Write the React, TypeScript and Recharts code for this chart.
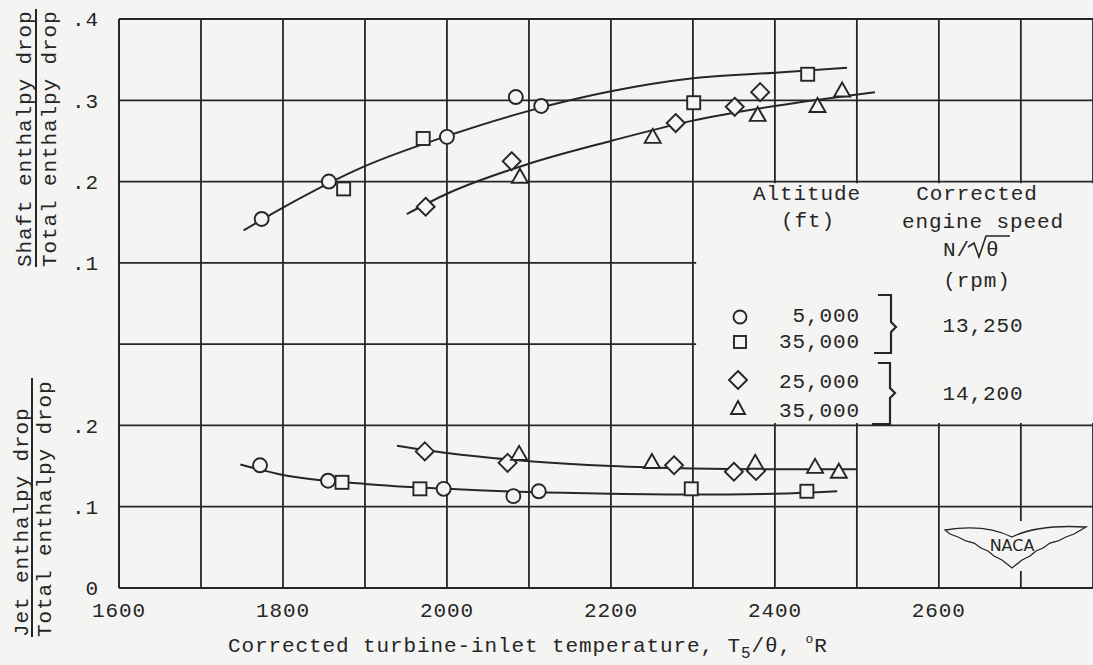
import React from 'react';
import {
  ComposedChart,
  Scatter,
  Line,
  XAxis,
  YAxis,
  CartesianGrid,
  ReferenceArea,
} from 'recharts';

const BG = '#f4f4f2';
const INK = '#262626';
const FONT = '"Liberation Mono", "DejaVu Sans Mono", monospace';

// ---- axis ticks -------------------------------------------------------
const xTicks = [1600, 1700, 1800, 1900, 2000, 2100, 2200, 2300, 2400, 2500, 2600, 2700];
const xTickLabels = ['1600', '', '1800', '', '2000', '', '2200', '', '2400', '', '2600', ''];
// one shared grid: lower panel 0..0.3, upper panel .1..4 (stacked above)
const yTicks = [0, 0.1, 0.2, 0.3, 0.4, 0.5, 0.6, 0.7];
const yTickLabels = ['0', '.1', '.2', '', '.1', '.2', '.3', '.4'];

// ---- upper panel: Shaft enthalpy drop / Total enthalpy drop -----------
const shaft5000 = [
  { t: 1774, v: 0.154 },
  { t: 1856, v: 0.2 },
  { t: 2000, v: 0.255 },
  { t: 2084, v: 0.304 },
  { t: 2115, v: 0.293 },
];
const shaft35000a = [
  { t: 1874, v: 0.191 },
  { t: 1971, v: 0.253 },
  { t: 2301, v: 0.297 },
  { t: 2440, v: 0.332 },
];
const shaft25000 = [
  { t: 1974, v: 0.169 },
  { t: 2079, v: 0.225 },
  { t: 2279, v: 0.272 },
  { t: 2351, v: 0.292 },
  { t: 2382, v: 0.31 },
];
const shaft35000b = [
  { t: 2089, v: 0.206 },
  { t: 2251, v: 0.255 },
  { t: 2379, v: 0.282 },
  { t: 2452, v: 0.293 },
  { t: 2482, v: 0.312 },
];
const shaftCurve13250 = [
  { t: 1752, v: 0.14 },
  { t: 1800, v: 0.168 },
  { t: 1900, v: 0.219 },
  { t: 2000, v: 0.256 },
  { t: 2100, v: 0.287 },
  { t: 2200, v: 0.311 },
  { t: 2300, v: 0.327 },
  { t: 2400, v: 0.334 },
  { t: 2488, v: 0.34 },
];
const shaftCurve14200 = [
  { t: 1951, v: 0.16 },
  { t: 2000, v: 0.185 },
  { t: 2100, v: 0.222 },
  { t: 2200, v: 0.25 },
  { t: 2300, v: 0.275 },
  { t: 2400, v: 0.293 },
  { t: 2522, v: 0.31 },
];

// ---- lower panel: Jet enthalpy drop / Total enthalpy drop -------------
const jet5000 = [
  { t: 1772, v: 0.151 },
  { t: 1855, v: 0.132 },
  { t: 1996, v: 0.122 },
  { t: 2081, v: 0.113 },
  { t: 2112, v: 0.119 },
];
const jet35000a = [
  { t: 1872, v: 0.13 },
  { t: 1967, v: 0.122 },
  { t: 2298, v: 0.122 },
  { t: 2439, v: 0.119 },
];
const jet25000 = [
  { t: 1973, v: 0.168 },
  { t: 2074, v: 0.154 },
  { t: 2277, v: 0.151 },
  { t: 2350, v: 0.143 },
  { t: 2377, v: 0.144 },
];
const jet35000b = [
  { t: 2088, v: 0.165 },
  { t: 2250, v: 0.155 },
  { t: 2376, v: 0.154 },
  { t: 2449, v: 0.149 },
  { t: 2478, v: 0.143 },
];
const jetCurve13250 = [
  { t: 1748, v: 0.152 },
  { t: 1800, v: 0.139 },
  { t: 1900, v: 0.128 },
  { t: 2000, v: 0.122 },
  { t: 2100, v: 0.118 },
  { t: 2200, v: 0.116 },
  { t: 2300, v: 0.115 },
  { t: 2400, v: 0.116 },
  { t: 2476, v: 0.119 },
];
const jetCurve14200 = [
  { t: 1939, v: 0.175 },
  { t: 2000, v: 0.166 },
  { t: 2100, v: 0.156 },
  { t: 2200, v: 0.15 },
  { t: 2300, v: 0.147 },
  { t: 2400, v: 0.146 },
  { t: 2500, v: 0.146 },
];

// ---- marker shapes ----------------------------------------------------
const SW = 1.9;
const CircleMark = (p: any) => (
  <circle cx={p.cx} cy={p.cy} r={7} fill={BG} stroke={INK} strokeWidth={SW} />
);
const SquareMark = (p: any) => (
  <rect x={p.cx - 6.5} y={p.cy - 6.5} width={13} height={13} fill={BG} stroke={INK} strokeWidth={SW} />
);
const DiamondMark = (p: any) => (
  <polygon
    points={`${p.cx},${p.cy - 9} ${p.cx + 9},${p.cy} ${p.cx},${p.cy + 9} ${p.cx - 9},${p.cy}`}
    fill={BG}
    stroke={INK}
    strokeWidth={SW}
  />
);
const TriangleMark = (p: any) => (
  <polygon
    points={`${p.cx},${p.cy - 8} ${p.cx + 8},${p.cy + 6} ${p.cx - 8},${p.cy + 6}`}
    fill={BG}
    stroke={INK}
    strokeWidth={SW}
  />
);

const textStyle = { fontFamily: FONT, fontSize: 21, letterSpacing: 0.9, fill: INK } as const;

const Overlay = () => (
  <svg
    width={1093}
    height={665}
    style={{ position: 'absolute', left: 0, top: 0, pointerEvents: 'none' }}
  >
    {/* y titles */}
    <g style={textStyle as any}>
      <text transform="translate(31,267) rotate(-90)">Shaft enthalpy drop</text>
      <text transform="translate(56,267) rotate(-90)">Total enthalpy drop</text>
      <text transform="translate(28,637) rotate(-90)">Jet enthalpy drop</text>
      <text transform="translate(51,637) rotate(-90)">Total enthalpy drop</text>
    </g>
    <line x1={36} y1={9} x2={36} y2={267} stroke={INK} strokeWidth={2} />
    <line x1={32} y1={378} x2={32} y2={637} stroke={INK} strokeWidth={2} />

    {/* x title */}
    <text x={228} y={652} style={textStyle as any}>
      Corrected turbine-inlet temperature, T
      <tspan fontSize={16} dy={6}>5</tspan>
      <tspan dy={-6}>/θ, </tspan>
      <tspan fontSize={13} dy={-9}>o</tspan>
      <tspan dy={9}>R</tspan>
    </text>

    {/* legend headers */}
    <g style={textStyle as any} textAnchor="middle">
      <text x={807} y={200}>Altitude</text>
      <text x={808} y={227}>(ft)</text>
      <text x={977} y={200}>Corrected</text>
      <text x={983} y={228}>engine speed</text>
      <text x={977} y={287}>(rpm)</text>
    </g>
    <g style={textStyle as any}>
      <text x={943} y={256}>N/</text>
      <text x={986} y={256}>θ</text>
    </g>
    <path d="M968,247 L974,243 L979,257 L986,236 L1010,236" fill="none" stroke={INK} strokeWidth={1.6} />

    {/* legend rows */}
    <circle cx={740} cy={317} r={6.5} fill={BG} stroke={INK} strokeWidth={SW} />
    <rect x={734} y={336} width={12} height={12} fill={BG} stroke={INK} strokeWidth={SW} />
    <polygon points="738,371 747,380 738,389 729,380" fill={BG} stroke={INK} strokeWidth={SW} />
    <polygon points="738,401 745,414 731,414" fill={BG} stroke={INK} strokeWidth={SW} />
    <g style={textStyle as any} textAnchor="end">
      <text x={860} y={322}>5,000</text>
      <text x={860} y={348}>35,000</text>
      <text x={860} y={388}>25,000</text>
      <text x={860} y={417}>35,000</text>
    </g>
    <path d="M878,295 L891,295 L891,322 L896,327 L891,332 L891,353 L874,353" fill="none" stroke={INK} strokeWidth={2.2} />
    <path d="M878,363 L890,363 L890,388 L895,393 L890,398 L890,424 L872,424" fill="none" stroke={INK} strokeWidth={2.2} />
    <g style={textStyle as any} textAnchor="middle">
      <text x={983} y={332}>13,250</text>
      <text x={983} y={400}>14,200</text>
    </g>

    {/* NACA logo */}
    <rect x={941} y={521} width={150} height={50} fill={BG} />
    <path
      d="M945,530 C975,525 996,529 1012,537 C1028,529 1052,525 1086,527
         L1074,534 L1066,537 L1058,541 L1050,543 L1043,548 L1036,551 L1030,556 L1022,560 L1012,568
         L1002,560 L994,556 L988,551 L981,548 L974,543 L966,541 L958,537 L950,534 Z"
      fill={BG}
      stroke={INK}
      strokeWidth={1.3}
    />
    <text
      x={1012}
      y={551}
      textAnchor="middle"
      style={{ fontFamily: '"DejaVu Sans", sans-serif', fontSize: 16, fontWeight: 500, fill: INK }}
    >
      NACA
    </text>
  </svg>
);

export default function App() {
  return (
    <div
      style={{
        position: 'absolute',
        left: 0,
        top: 0,
        width: 1093,
        height: 665,
        background: BG,
        overflow: 'hidden',
      }}
    >
      <ComposedChart
        width={1093}
        height={665}
        margin={{ top: 19, right: 0, bottom: 0, left: 0 }}
      >
        <CartesianGrid yAxisId="lo" stroke={INK} strokeWidth={1.8} />
        <XAxis
          dataKey="t"
          type="number"
          domain={[1600, 2788]}
          allowDataOverflow
          ticks={xTicks}
          tickFormatter={(v: number, i: number) => xTickLabels[i]}
          height={77}
          tickSize={0}
          tickMargin={14}
          axisLine={{ stroke: INK, strokeWidth: 1.8 }}
          tickLine={false}
          tick={{ fill: INK, fontFamily: FONT, fontSize: 21, letterSpacing: 0.9 }}
        />
        <YAxis
          yAxisId="hi"
          dataKey="v"
          type="number"
          domain={[-0.3, 0.4]}
          allowDataOverflow
          width={0}
          hide
        />
        <YAxis
          yAxisId="lo"
          dataKey="v"
          type="number"
          domain={[0, 0.7]}
          allowDataOverflow
          ticks={yTicks}
          tickFormatter={(v: number, i: number) => yTickLabels[i]}
          width={119}
          tickSize={0}
          tickMargin={20}
          axisLine={{ stroke: INK, strokeWidth: 1.8 }}
          tickLine={false}
          tick={{ fill: INK, fontFamily: FONT, fontSize: 21, letterSpacing: 0.9 }}
        />
        <ReferenceArea
          yAxisId="lo"
          x1={2304}
          x2={2788}
          y1={0.203}
          y2={0.498}
          fill={BG}
          fillOpacity={1}
          stroke="none"
          ifOverflow="visible"
        />

        <Line yAxisId="hi" data={shaftCurve13250} dataKey="v" type="monotone" stroke={INK} strokeWidth={2} dot={false} isAnimationActive={false} />
        <Line yAxisId="hi" data={shaftCurve14200} dataKey="v" type="monotone" stroke={INK} strokeWidth={2} dot={false} isAnimationActive={false} />
        <Line yAxisId="lo" data={jetCurve13250} dataKey="v" type="monotone" stroke={INK} strokeWidth={2} dot={false} isAnimationActive={false} />
        <Line yAxisId="lo" data={jetCurve14200} dataKey="v" type="monotone" stroke={INK} strokeWidth={2} dot={false} isAnimationActive={false} />

        <Scatter yAxisId="hi" data={shaft5000} shape={CircleMark} isAnimationActive={false} />
        <Scatter yAxisId="hi" data={shaft35000a} shape={SquareMark} isAnimationActive={false} />
        <Scatter yAxisId="hi" data={shaft25000} shape={DiamondMark} isAnimationActive={false} />
        <Scatter yAxisId="hi" data={shaft35000b} shape={TriangleMark} isAnimationActive={false} />

        <Scatter yAxisId="lo" data={jet5000} shape={CircleMark} isAnimationActive={false} />
        <Scatter yAxisId="lo" data={jet35000a} shape={SquareMark} isAnimationActive={false} />
        <Scatter yAxisId="lo" data={jet25000} shape={DiamondMark} isAnimationActive={false} />
        <Scatter yAxisId="lo" data={jet35000b} shape={TriangleMark} isAnimationActive={false} />
      </ComposedChart>
      <Overlay />
    </div>
  );
}
